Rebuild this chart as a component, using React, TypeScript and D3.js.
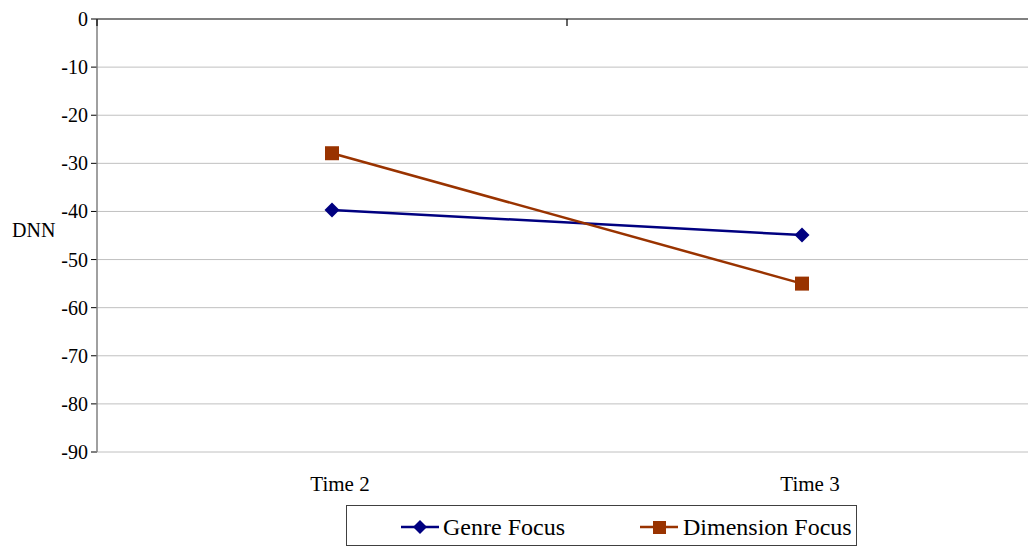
import React from "react";
import * as d3 from "d3";

const categories = ["Time 2", "Time 3"];
const genreFocus = [-39.7, -44.9];
const dimensionFocus = [-27.9, -55.0];
const yTicks = [0, -10, -20, -30, -40, -50, -60, -70, -80, -90];

const W = 1028;
const H = 547;
const left = 97;
const right = 1037;
const top = 19;
const bottom = 452;

export default function App() {
  const x = d3.scaleBand().domain(categories).range([left, right]);
  const y = d3.scaleLinear().domain([0, -90]).range([top, bottom]);
  const cx = (c: string) => (x(c) as number) + x.bandwidth() / 2;
  const line = d3
    .line<number>()
    .x((_, i) => cx(categories[i]))
    .y((v) => y(v));
  const font = "'Times New Roman', Times, 'Liberation Serif', 'DejaVu Serif', serif";
  const blue = "#000080";
  const brown = "#993300";
  const diamond = (px: number, py: number, r: number) =>
    `M${px},${py - r}L${px + r},${py}L${px},${py + r}L${px - r},${py}Z`;

  return (
    <svg width={W} height={H} style={{ position: "absolute", left: 0, top: 0, fontFamily: font }}>
      <rect width={W} height={H} fill="#fff" />
      {yTicks.map((t) => (
        <g key={t}>
          {t !== 0 && (
            <line x1={left} x2={right} y1={y(t)} y2={y(t)} stroke="#c0c0c0" strokeWidth={1} />
          )}
          <line x1={left - 6} x2={left} y1={y(t)} y2={y(t)} stroke="#000" strokeWidth={1} />
          <text x={88} y={y(t)} dy="0.35em" textAnchor="end" fontSize={20} fill="#000" style={{ fontFamily: font }}>
            {t}
          </text>
        </g>
      ))}
      <line x1={left} x2={left} y1={top} y2={bottom} stroke="#808080" strokeWidth={1.5} />
      <line x1={left} x2={right} y1={top} y2={top} stroke="#808080" strokeWidth={2} />
      {[left, x(categories[1]) as number].map((tx, i) => (
        <line key={i} x1={tx} x2={tx} y1={top} y2={top + 7} stroke="#000" strokeWidth={1.2} />
      ))}
      {categories.map((c) => (
        <text key={c} x={cx(c) + 8} y={491} textAnchor="middle" fontSize={21} fill="#000" style={{ fontFamily: font }}>
          {c}
        </text>
      ))}
      <text x={12} y={237} fontSize={20} fill="#000" style={{ fontFamily: font }}>DNN</text>

      <path d={line(genreFocus) || ""} fill="none" stroke={blue} strokeWidth={2.5} />
      <path d={line(dimensionFocus) || ""} fill="none" stroke={brown} strokeWidth={2.5} />
      {genreFocus.map((v, i) => (
        <path key={"g" + i} d={diamond(cx(categories[i]), y(v), 7.5)} fill={blue} />
      ))}
      {dimensionFocus.map((v, i) => (
        <rect key={"d" + i} x={cx(categories[i]) - 7} y={y(v) - 7} width={14} height={14} fill={brown} />
      ))}

      <rect x={346.5} y={505.5} width={510} height={40} fill="#fff" stroke="#404040" strokeWidth={1} />
      <line x1={401} x2={439} y1={527} y2={527} stroke={blue} strokeWidth={2.5} />
      <path d={diamond(420, 527, 7)} fill={blue} />
      <text x={443} y={535} fontSize={24} fill="#000" style={{ fontFamily: font }}>Genre Focus</text>
      <line x1={640} x2={678} y1={527} y2={527} stroke={brown} strokeWidth={2.5} />
      <rect x={653} y={521} width={13} height={13} fill={brown} />
      <text x={683} y={535} fontSize={24} fill="#000" style={{ fontFamily: font }}>Dimension Focus</text>
    </svg>
  );
}
